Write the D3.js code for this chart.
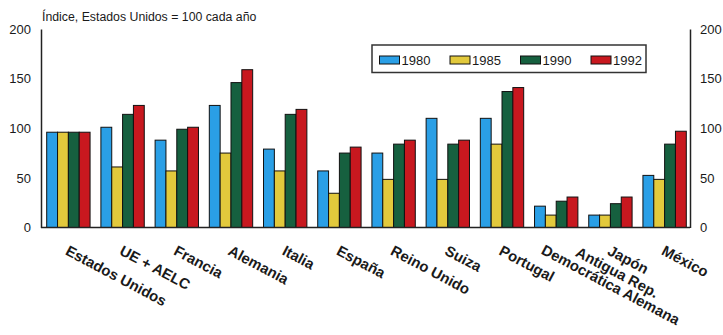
<!DOCTYPE html>
<html>
<head>
<meta charset="utf-8">
<script src="https://d3js.org/d3.v7.min.js"></script>
<style>
  body { margin: 0; background: #ffffff; }
  svg { display: block; font-family: "Liberation Sans", Arial, sans-serif; }
  .axis text { font-size: 13px; fill: #1a1a1a; }
  .label { font-size: 14.8px; font-weight: bold; fill: #1a1a1a; }
</style>
</head>
<body>
<svg class="chart"></svg>
<script>

// categories (multi-line labels split with "|")
var countries = ["Estados Unidos", "UE + AELC", "Francia", "Alemania", "Italia", "España",
    "Reino Unido", "Suiza", "Portugal", "Antigua Rep.|Democrática Alemana", "Japón", "México"];

var years = ["1980", "1985", "1990", "1992"];

// index values, Estados Unidos = 100 each year
var values1980 = [96, 101, 88, 123, 79, 57, 75, 110, 110, 21.5, 12.5, 52.5];
var values1985 = [96, 61, 57, 75, 57, 34.5, 48.5, 48.5, 84, 12.5, 12.5, 48.5];
var values1990 = [96, 114, 99, 146, 114, 75, 84, 84, 137, 26.5, 24, 84];
var values1992 = [96, 123, 101, 159, 119, 81, 88, 88, 141, 30.7, 30.7, 97];

var yTicks = [0, 50, 100, 150, 200];
var title = "Índice, Estados Unidos = 100 cada año";

var colors = ["#2a9fe6", "#e2c93c", "#16603f", "#c8181f"];

document.addEventListener("DOMContentLoaded", function() {
    drawChart();
});

function drawChart() {

    var width = 723,
        height = 335;

    var svg = d3.select(".chart")
        .attr("width", width)
        .attr("height", height);

    var series = [values1980, values1985, values1990, values1992];

    // one row per country
    var data = countries.map(function(c, i) {
        return {
            name: c,
            values: years.map(function(y, j) { return {year: y, value: series[j][i]}; })
        };
    });

    var x = d3.scaleBand()
        .domain(countries)
        .range([46.7, 686.3])
        .paddingInner(0.2)
        .paddingOuter(0);

    var xYear = d3.scaleBand()
        .domain(years)
        .range([0, x.bandwidth()]);

    var y = d3.scaleLinear()
        .domain([0, 200])
        .range([227.5, 29]);

    var color = d3.scaleOrdinal()
        .domain(years)
        .range(colors);

    var left = 41,
        right = 690;

    // title
    svg.append("text")
        .attr("x", 42)
        .attr("y", 21)
        .style("font-size", "12.3px")
        .style("fill", "#1a1a1a")
        .text(title);

    // y axes, labels only
    drawYAxis(svg, d3.axisLeft(y), left, y);
    drawYAxis(svg, d3.axisRight(y), right, y);

    // bars
    var group = svg.selectAll(".country")
        .data(data)
        .enter().append("g")
        .attr("class", "country")
        .attr("transform", function(d) { return "translate(" + x(d.name) + ",0)"; });

    group.selectAll("rect")
        .data(function(d) { return d.values; })
        .enter().append("rect")
        .attr("x", function(d) { return xYear(d.year); })
        .attr("y", function(d) { return y(d.value); })
        .attr("width", xYear.bandwidth())
        .attr("height", function(d) { return y(0) - y(d.value); })
        .attr("fill", function(d) { return color(d.year); })
        .attr("stroke", "#111")
        .attr("stroke-width", 1);

    // baseline
    svg.append("line")
        .attr("x1", left)
        .attr("x2", right)
        .attr("y1", y(0))
        .attr("y2", y(0))
        .attr("stroke", "#222")
        .attr("stroke-width", 1.5);

    drawLabels(svg, x);
    drawLegend(svg, color);
}

// axis line plus tick labels at given x
function drawYAxis(svg, axis, xPos, y) {

    var g = svg.append("g")
        .attr("class", "axis")
        .attr("transform", "translate(" + xPos + ",0)")
        .call(axis.tickValues(yTicks).tickSize(0).tickPadding(10));

    g.select(".domain")
        .attr("stroke", "#222")
        .attr("stroke-width", 1.5);

    g.selectAll("text")
        .style("font-family", "Liberation Sans, Arial, sans-serif")
        .style("font-size", "13px")
        .attr("fill", "#1a1a1a");
}

// slanted country names
function drawLabels(svg, x) {

    var labels = svg.selectAll(".label")
        .data(countries)
        .enter().append("text")
        .attr("class", "label")
        .attr("transform", function(d) {
            return "translate(" + (x(d) + x.bandwidth() / 2 - 4) + ",254) rotate(28)";
        });

    labels.each(function(d) {
        var lines = d.split("|");
        var text = d3.select(this);
        var multi = lines.length > 1;
        var spans = lines.map(function(l, i) {
            return text.append("tspan")
                .attr("x", 0)
                .attr("dy", i == 0 ? (multi ? "-0.62em" : 0) : "0.95em")
                .text(l);
        });

        // centre the lines of a multi-line label
        if (multi) {
            var w = spans.map(function(s) { return s.node().getComputedTextLength(); });
            var maxW = d3.max(w);
            spans.forEach(function(s, i) {
                s.attr("x", (maxW - w[i]) / 2 - 11);
            });
        }
    });
}

function drawLegend(svg, color) {

    var legend = svg.append("g")
        .attr("transform", "translate(372,45)");

    legend.append("rect")
        .attr("width", 274)
        .attr("height", 27.5)
        .attr("fill", "#fff")
        .attr("stroke", "#333")
        .attr("stroke-width", 1.5);

    var item = legend.selectAll(".item")
        .data(years)
        .enter().append("g")
        .attr("class", "item")
        .attr("transform", function(d, i) { return "translate(" + (7.5 + i * 70.5) + ",0)"; });

    item.append("rect")
        .attr("y", 11)
        .attr("width", 20)
        .attr("height", 8)
        .attr("fill", function(d) { return color(d); })
        .attr("stroke", "#111")
        .attr("stroke-width", 1);

    item.append("text")
        .attr("x", 22)
        .attr("y", 19.5)
        .style("font-size", "13px")
        .style("fill", "#1a1a1a")
        .text(function(d) { return d; });
}

</script>
</body>
</html>
